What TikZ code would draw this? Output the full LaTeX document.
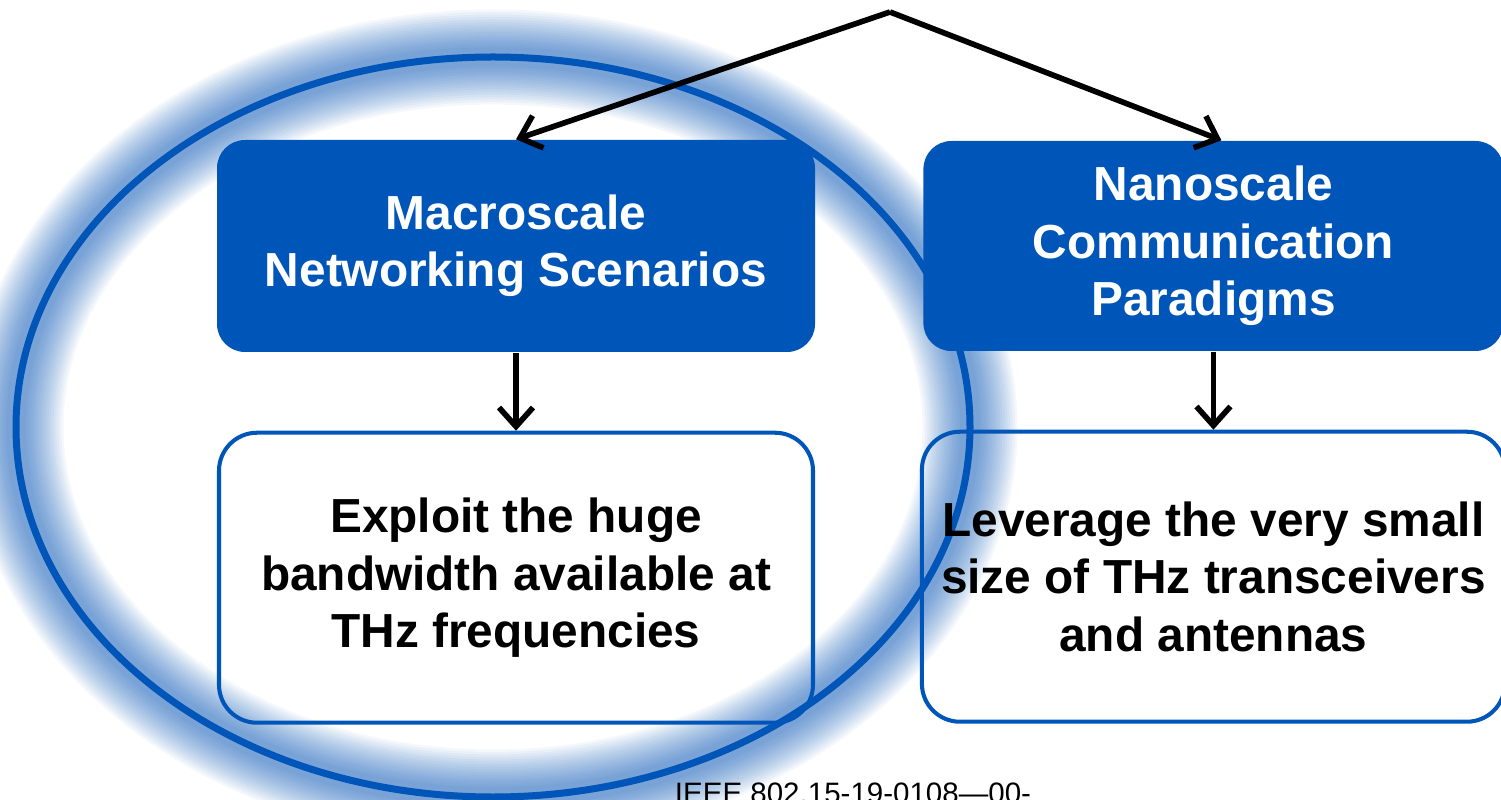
\documentclass[tikz,border=0pt]{standalone}
\usepackage{fontspec}
\setmainfont{Liberation Sans}
\usepackage{xcolor}
\definecolor{thzblue}{RGB}{0,85,184}
\usepackage{tikz}
\usetikzlibrary{
    arrows.meta,
    positioning,
    backgrounds
}
\tikzset{
    scalebox/.style  = {rectangle, fill=thzblue, text=white, inner sep=0pt,
                        rounded corners=0.28cm, align=center,
                        font=\fontsize{13.6}{16.3}\selectfont\bfseries},
    goalbox/.style   = {rectangle, draw=thzblue, line width=1.15pt, inner sep=0pt,
                        rounded corners=0.38cm, align=center, text=black,
                        font=\fontsize{13.6}{16.3}\selectfont\bfseries},
    arrow/.style     = {-{Straight Barb[length=1.9mm,width=3.4mm]}, line width=1.6pt}
}

\begin{document}
\begin{tikzpicture}[
    node distance = 7.8mm and 10.7mm,
    docid/.style = {font=\fontsize{8.4}{10}\selectfont, anchor=base}
]
\useasboundingbox (0,0) rectangle (15.01,-8);

% --- Scale boxes ---
\node[scalebox, minimum width=5.98cm, minimum height=2.12cm] (macro) at (5.16,-2.46)
   {Macroscale\\Networking Scenarios};
\node[scalebox, minimum width=5.80cm, minimum height=2.10cm, right=of macro] (nano)
   {Nanoscale\\Communication\\Paradigms};

% --- Goal boxes ---
\node[goalbox, minimum width=5.94cm, minimum height=2.90cm, below=of macro] (exploit)
   {Exploit the huge\\bandwidth available at\\THz frequencies};
\node[goalbox, minimum width=5.83cm, minimum height=2.90cm, below=of nano] (leverage)
   {Leverage the very small\\size of THz transceivers\\and antennas};

% --- Highlight ring round the macroscale column (soft glow) ---
\begin{scope}[on background layer]
   \fill[white] (0,0) rectangle (15.01,-8);
   \foreach \w in {0.95,0.90,...,0.15}
      \draw[thzblue, opacity=0.045, line width=\w cm]
         (4.93,-4.27) ellipse [x radius=4.77, y radius=3.70];
   \draw[thzblue, line width=0.07cm] (4.93,-4.27) ellipse [x radius=4.77, y radius=3.70];
\end{scope}

% --- Arrows ---
\coordinate (apex) at (8.90,-0.12);
\draw[arrow] (apex) -- (macro.north);
\draw[arrow] (apex) -- ([xshift=0.08cm]nano.north);
\foreach \src/\dst in {macro/exploit, nano/leverage}
   \draw[arrow] (\src) -- (\dst);

% --- Document number (cut by the page) ---
\node[docid] (docnum) at (8.53,-8.03) {IEEE 802.15-19-0108—00-};

\end{tikzpicture}
\end{document}
